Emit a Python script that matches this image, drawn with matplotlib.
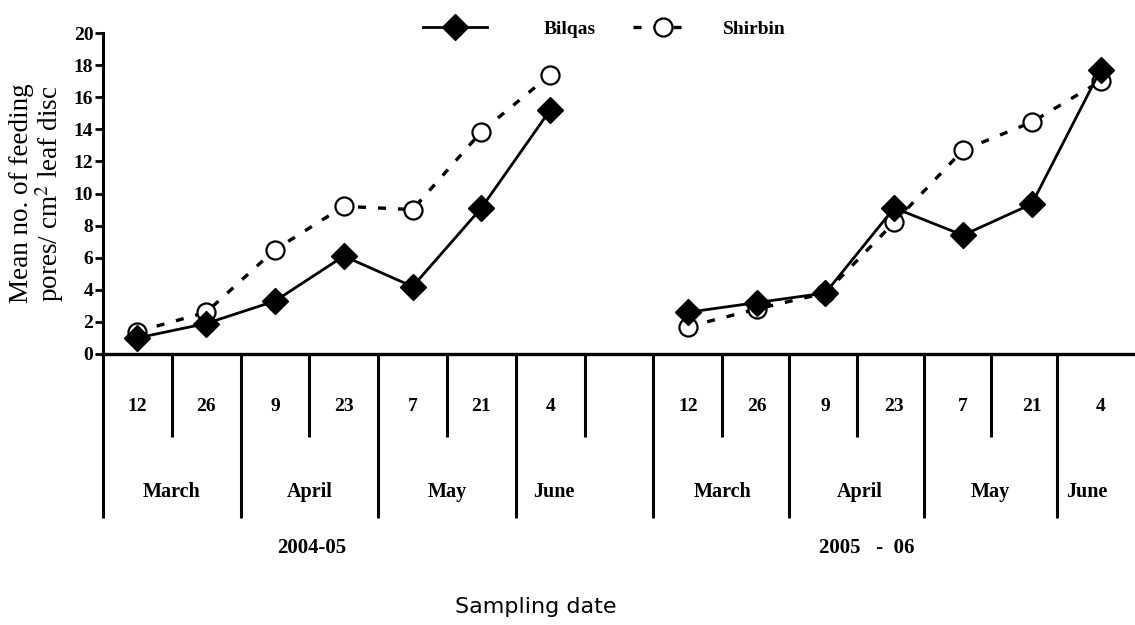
import matplotlib
matplotlib.use("Agg")
import matplotlib.pyplot as plt
from matplotlib.lines import Line2D

# ---- data ----
dates = ["12", "26", "9", "23", "7", "21", "4"]
months = ["March", "April", "May", "June"]
seasons = ["2004-05", "2005   -  06"]
pos_p1 = [0, 1, 2, 3, 4, 5, 6]
pos_p2 = [8, 9, 10, 11, 12, 13, 14]

bilqas_p1 = [1.0, 1.9, 3.3, 6.1, 4.2, 9.1, 15.2]
shirbin_p1 = [1.4, 2.6, 6.5, 9.2, 9.0, 13.85, 17.4]
bilqas_p2 = [2.6, 3.2, 3.8, 9.1, 7.4, 9.35, 17.7]
shirbin_p2 = [1.7, 2.8, 3.8, 8.2, 12.7, 14.45, 17.0]

yticks = [0, 2, 4, 6, 8, 10, 12, 14, 16, 18, 20]

# layout helpers (positions on the index axis)
month_pos_p1 = [0.5, 2.5, 4.5, 6.05]
month_pos_p2 = [8.5, 10.5, 12.4, 13.8]
season_pos = [2.54, 10.6]
sep_long = [-0.5, 1.5, 3.5, 5.5, 7.5, 9.47, 11.43, 13.37]
sep_short = [0.5, 2.5, 4.5, 6.5, 8.5, 10.46, 12.4]

plt.rcParams['font.family'] = ['Liberation Serif', 'DejaVu Serif']
plt.rcParams['mathtext.fontset'] = 'stix'

fig = plt.figure(figsize=(11.35, 6.25), dpi=100)
ax = fig.add_axes([103 / 1135, 1 - 354 / 625, 1 - 103 / 1135, (354 - 33) / 625])

lw = 2.0
mk_b = dict(marker='D', markersize=13, color='black', mfc='black', mec='black', lw=lw)
mk_s = dict(marker='o', markersize=13, color='black', mfc='white', mec='black',
            mew=1.6, lw=lw + 0.4, dashes=(2.4, 3.6))

for p, s in ((pos_p1, shirbin_p1), (pos_p2, shirbin_p2)):
    ax.plot(p, s, **mk_s, zorder=3)
for p, b in ((pos_p1, bilqas_p1), (pos_p2, bilqas_p2)):
    ax.plot(p, b, **mk_b, zorder=4)

ax.set_xlim(-0.5, 14.5)
ax.set_ylim(0, 20)
ax.set_xticks([])
ax.set_yticks(yticks)
ax.set_yticklabels([str(v) for v in yticks], fontweight='bold', fontsize=14)
ax.tick_params(axis='y', direction='out', length=6, width=2, pad=1)
for side in ('top', 'right'):
    ax.spines[side].set_visible(False)
ax.spines['left'].set_linewidth(2.2)
ax.spines['bottom'].set_linewidth(2.4)

# separators below the axis
ax.vlines(sep_long, -10.2, 0, colors='black', lw=2.2, clip_on=False)
ax.vlines(sep_short, -5.2, 0, colors='black', lw=2.2, clip_on=False)

# date, month and season labels
for plist in (pos_p1, pos_p2):
    for p, d in zip(plist, dates):
        ax.text(p, -3.3, d, ha='center', va='center', fontsize=14,
                fontweight='bold', clip_on=False)
for mp in (month_pos_p1, month_pos_p2):
    for p, m in zip(mp, months):
        ax.text(p, -8.6, m, ha='center', va='center', fontsize=14.5,
                fontweight='bold', clip_on=False)
for p, s in zip(season_pos, seasons):
    ax.text(p, -12.1, s, ha='center', va='center', fontsize=15,
            fontweight='bold', clip_on=False)

ax.set_ylabel("Mean no. of feeding\npores/ cm$^2$ leaf disc", fontsize=19.5,
              linespacing=0.95)
ax.yaxis.set_label_coords(-0.036, 0.5)

fig.text(536 / 1135, 1 - 607 / 625, "Sampling date", ha='center', va='center',
         fontsize=16, family='DejaVu Sans')

leg_prop = {'weight': 'bold', 'size': 14}
leg1 = fig.legend([Line2D([], [], **mk_b)], ["Bilqas"], loc='center left',
                  bbox_to_anchor=(423 / 1135, 1 - 29 / 625), frameon=False,
                  prop=leg_prop, handlelength=3.3, handletextpad=2.9,
                  borderpad=0, borderaxespad=0, numpoints=1)
leg2 = fig.legend([Line2D([], [], **mk_s)], ["Shirbin"], loc='center left',
                  bbox_to_anchor=(633 / 1135, 1 - 29 / 625), frameon=False,
                  prop=leg_prop, handlelength=3.1, handletextpad=1.5,
                  borderpad=0, borderaxespad=0, numpoints=1)

fig.savefig("out.png", dpi=100)
